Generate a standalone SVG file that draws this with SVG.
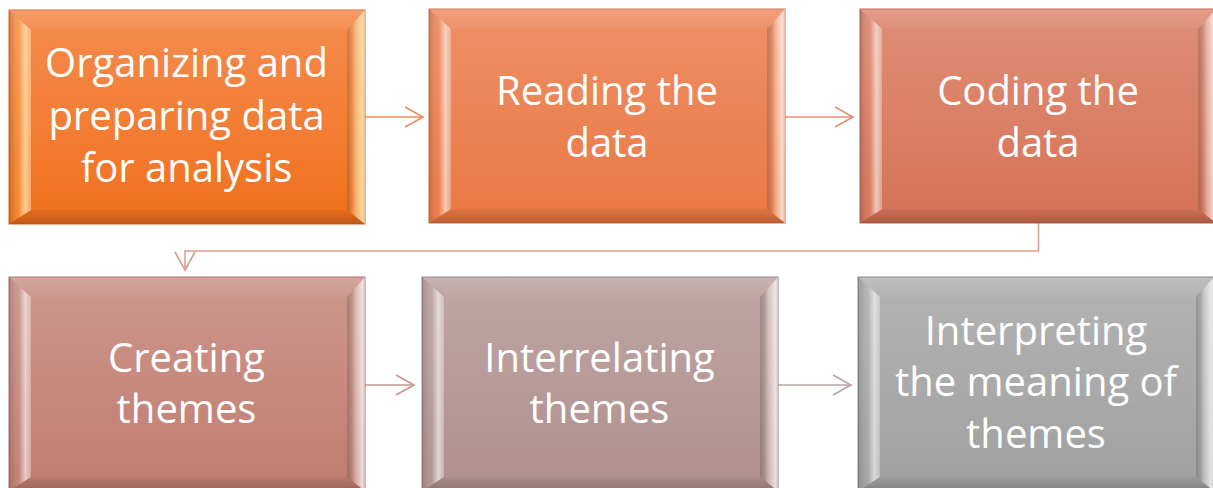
<svg xmlns="http://www.w3.org/2000/svg" xmlns:xlink="http://www.w3.org/1999/xlink" width="1213" height="488" viewBox="0 0 1213 488">
  <style>
    .lbl { fill: #ffffff; font-family: "Open Sans", "Noto Sans", "Liberation Sans", sans-serif; font-size: 40px; text-anchor: middle; }
    .conn { fill: none; stroke-width: 1.6; }
    .head { fill: none; stroke-width: 1.6; stroke-linejoin: miter; }
  </style>
  <defs>
    <!-- base fills, one per step -->
    <linearGradient id="g1" x1="0" y1="0" x2="0" y2="1"><stop offset="0" stop-color="#F58C50"/><stop offset="1" stop-color="#F0701C"/></linearGradient>
    <linearGradient id="g2" x1="0" y1="0" x2="0" y2="1"><stop offset="0" stop-color="#EE9066"/><stop offset="1" stop-color="#EA7743"/></linearGradient>
    <linearGradient id="g3" x1="0" y1="0" x2="0" y2="1"><stop offset="0" stop-color="#DF8E76"/><stop offset="1" stop-color="#D57256"/></linearGradient>
    <linearGradient id="g4" x1="0" y1="0" x2="0" y2="1"><stop offset="0" stop-color="#CC978C"/><stop offset="1" stop-color="#C17C70"/></linearGradient>
    <linearGradient id="g5" x1="0" y1="0" x2="0" y2="1"><stop offset="0" stop-color="#BFA5A4"/><stop offset="1" stop-color="#B0908E"/></linearGradient>
    <linearGradient id="g6" x1="0" y1="0" x2="0" y2="1"><stop offset="0" stop-color="#B3B3B3"/><stop offset="1" stop-color="#A0A0A0"/></linearGradient>

    <!-- bevel face shading, shared by all steps -->
    <linearGradient id="fL" x1="0" y1="0" x2="1" y2="0">
      <stop offset="0" stop-color="#000" stop-opacity="0.14"/>
      <stop offset="0.45" stop-color="#fff" stop-opacity="0.05"/>
      <stop offset="0.75" stop-color="#fff" stop-opacity="0.6"/>
      <stop offset="1" stop-color="#fff" stop-opacity="0.3"/>
    </linearGradient>
    <linearGradient id="fR" x1="0" y1="0" x2="1" y2="0">
      <stop offset="0" stop-color="#000" stop-opacity="0.14"/>
      <stop offset="0.45" stop-color="#fff" stop-opacity="0.3"/>
      <stop offset="0.85" stop-color="#fff" stop-opacity="0.72"/>
      <stop offset="1" stop-color="#fff" stop-opacity="0.45"/>
    </linearGradient>
    <linearGradient id="fT" x1="0" y1="0" x2="0" y2="1">
      <stop offset="0" stop-color="#fff" stop-opacity="0.14"/>
      <stop offset="1" stop-color="#fff" stop-opacity="0.04"/>
    </linearGradient>
    <linearGradient id="fB" x1="0" y1="0" x2="0" y2="1">
      <stop offset="0" stop-color="#000" stop-opacity="0.04"/>
      <stop offset="1" stop-color="#000" stop-opacity="0.2"/>
    </linearGradient>
    <!-- warm tint for the orange step's side highlights -->
    <linearGradient id="warm" x1="0" y1="0" x2="1" y2="0">
      <stop offset="0" stop-color="#FFD25A" stop-opacity="0"/>
      <stop offset="0.75" stop-color="#FFD25A" stop-opacity="0.35"/>
      <stop offset="1" stop-color="#FFD25A" stop-opacity="0.1"/>
    </linearGradient>

    <g id="bevel">
      <polygon points="0,0 356,0 338,20 22,20" fill="url(#fT)"/>
      <polygon points="0,214 22,200 338,200 356,214" fill="url(#fB)"/>
      <polygon points="0,0 22,20 22,200 0,214" fill="url(#fL)"/>
      <polygon points="356,0 356,214 338,200 338,20" fill="url(#fR)"/>
    </g>

    <marker id="m1" markerUnits="userSpaceOnUse" markerWidth="24" markerHeight="26" refX="20" refY="12" orient="auto" overflow="visible">
      <path class="head" d="M2,2 L20,12 L2,22" stroke="#F08A5A"/>
    </marker>
    <marker id="m2" markerUnits="userSpaceOnUse" markerWidth="24" markerHeight="26" refX="20" refY="12" orient="auto" overflow="visible">
      <path class="head" d="M2,2 L20,12 L2,22" stroke="#E58F72"/>
    </marker>
    <marker id="m3" markerUnits="userSpaceOnUse" markerWidth="24" markerHeight="26" refX="20" refY="12" orient="auto" overflow="visible">
      <path class="head" d="M2,2 L20,12 L2,22" stroke="#D9998A"/>
    </marker>
    <marker id="m4" markerUnits="userSpaceOnUse" markerWidth="24" markerHeight="26" refX="20" refY="12" orient="auto" overflow="visible">
      <path class="head" d="M2,2 L20,12 L2,22" stroke="#C9958C"/>
    </marker>
    <marker id="m5" markerUnits="userSpaceOnUse" markerWidth="24" markerHeight="26" refX="20" refY="12" orient="auto" overflow="visible">
      <path class="head" d="M2,2 L20,12 L2,22" stroke="#B8A4A4"/>
    </marker>
  </defs>

  <rect width="1213" height="488" fill="#ffffff"/>

  <g id="connectors">
    <path class="conn" d="M364,117 H423" stroke="#F08A5A" marker-end="url(#m1)"/>
    <path class="conn" d="M785,117 H853" stroke="#E58F72" marker-end="url(#m2)"/>
    <path class="conn" d="M1038.5,223 V251 H185 V270" stroke="#DDA090" marker-end="url(#m3)"/>
    <path class="conn" d="M364,385 H414" stroke="#C9958C" marker-end="url(#m4)"/>
    <path class="conn" d="M777,385 H851" stroke="#B8A4A4" marker-end="url(#m5)"/>
  </g>

  <g id="step1">
    <rect x="9" y="10" width="356" height="214" fill="url(#g1)" stroke="#D9672A" stroke-width="1"/>
    <use xlink:href="#bevel" x="9" y="10"/>
    <polygon points="9,10 31,30 31,210 9,224" fill="url(#warm)"/>
    <polygon points="347,30 365,10 365,224 347,210" fill="url(#warm)"/>
    <text class="lbl" x="186.5" y="77">Organizing and</text>
    <text class="lbl" x="186.5" y="129.5">preparing data</text>
    <text class="lbl" x="186.5" y="182">for analysis</text>
  </g>

  <g id="step2">
    <rect x="429" y="9" width="356" height="214" fill="url(#g2)" stroke="#CF6E48" stroke-width="1"/>
    <use xlink:href="#bevel" x="429" y="9"/>
    <text class="lbl" x="607" y="105">Reading the</text>
    <text class="lbl" x="607" y="157">data</text>
  </g>

  <g id="step3">
    <rect x="860" y="9" width="356" height="214" fill="url(#g3)" stroke="#B9644C" stroke-width="1"/>
    <use xlink:href="#bevel" x="860" y="9"/>
    <text class="lbl" x="1038" y="105">Coding the</text>
    <text class="lbl" x="1038" y="157">data</text>
  </g>

  <g id="step4">
    <rect x="9" y="277" width="356" height="214" fill="url(#g4)" stroke="#A67468" stroke-width="1"/>
    <use xlink:href="#bevel" x="9" y="277"/>
    <text class="lbl" x="186.5" y="372">Creating</text>
    <text class="lbl" x="186.5" y="423">themes</text>
  </g>

  <g id="step5">
    <rect x="422" y="277" width="356" height="214" fill="url(#g5)" stroke="#948080" stroke-width="1"/>
    <use xlink:href="#bevel" x="422" y="277"/>
    <text class="lbl" x="599.5" y="372">Interrelating</text>
    <text class="lbl" x="599.5" y="423">themes</text>
  </g>

  <g id="step6">
    <rect x="858" y="277" width="356" height="214" fill="url(#g6)" stroke="#888888" stroke-width="1"/>
    <use xlink:href="#bevel" x="858" y="277"/>
    <text class="lbl" x="1036" y="345">Interpreting</text>
    <text class="lbl" x="1036" y="396">the meaning of</text>
    <text class="lbl" x="1036" y="448">themes</text>
  </g>
</svg>
